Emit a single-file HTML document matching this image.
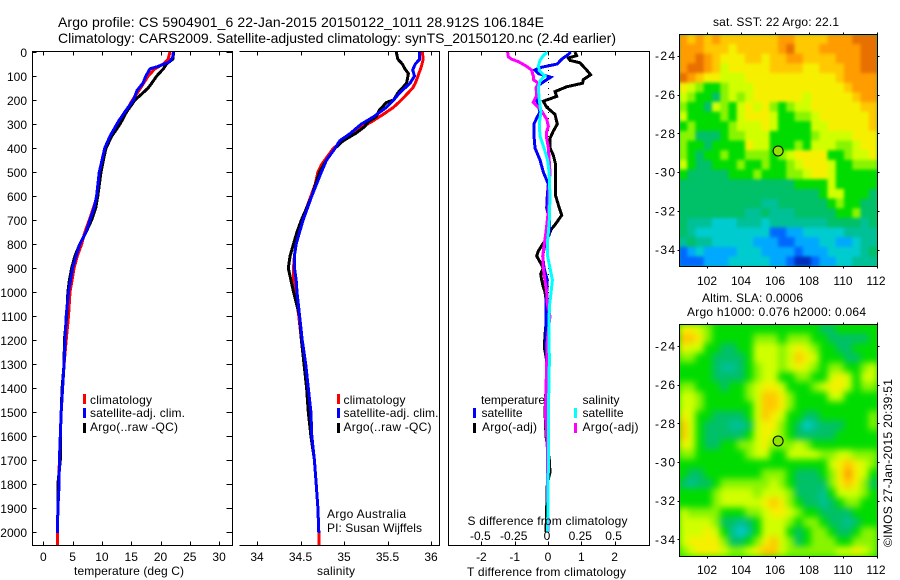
<!DOCTYPE html>
<html lang="en">
<head>
<meta charset="utf-8">
<title>Argo profile chart</title>
<style>
html,body{margin:0;padding:0;background:#fff;}
svg{display:block;}
text{font-family:"Liberation Sans",sans-serif;font-size:12px;fill:#000;}
</style>
</head>
<body>
<svg id="figure" xmlns="http://www.w3.org/2000/svg" width="900" height="580" viewBox="0 0 900 580">
  <defs>
    <clipPath id="sstClip"><rect x="680" y="34" width="197" height="232"/></clipPath>
    <clipPath id="slaClip"><rect x="680" y="324" width="197" height="232"/></clipPath>
    <filter id="soften" x="-5%" y="-5%" width="110%" height="110%" color-interpolation-filters="sRGB"><feGaussianBlur stdDeviation="3.5"/></filter>
    <filter id="softenLight" x="-5%" y="-5%" width="110%" height="110%" color-interpolation-filters="sRGB"><feGaussianBlur stdDeviation="1.5"/></filter>
  </defs>
  <text x="58" y="27" style="font-size:14px" textLength="486">Argo profile: CS 5904901_6 22-Jan-2015 20150122_1011 28.912S 106.184E</text>
  <text x="58" y="43" style="font-size:14px" textLength="558">Climatology: CARS2009. Satellite-adjusted climatology: synTS_20150120.nc (2.4d earlier)</text>
  <g id="panelTemp"></g>
  <g id="panelSal"></g>
  <g id="panelDiff"></g>
  <g id="mapSst"></g>
  <g id="mapSla"></g>
  <text x="327" y="518" textLength="79">Argo Australia</text>
  <text x="327" y="532" textLength="95">PI: Susan Wijffels</text>
  <text x="713" y="26" textLength="126">sat. SST: 22 Argo: 22.1</text>
  <text x="702" y="302" textLength="101">Altim. SLA: 0.0006</text>
  <text x="687" y="316" textLength="179">Argo h1000: 0.076 h2000: 0.064</text>
  <text transform="translate(892,547) rotate(-90)" x="0" y="0" textLength="168">©IMOS 27-Jan-2015 20:39:51</text>
</svg>
<script>
// ---------- chart data ----------
const depthTicks = [0,100,200,300,400,500,600,700,800,900,1000,1100,1200,1300,1400,1500,1600,1700,1800,1900,2000];
const tempTicks = [0,5,10,15,20,25,30];
const salTicks = [34,34.5,35,35.5,36];
const salTickLabels = ["34","34.5","35","35.5","36"];
const tDiffTicks = [-2,-1,0,1,2];
const sDiffTicks = [-0.5,-0.25,0,0.25,0.5];
const sDiffTickLabels = ["-0.5","-0.25","0","0.25","0.5"];
const lonTicks = [102,104,106,108,110,112];
const latTicks = [-24,-26,-28,-30,-32,-34];

const tempClimDepth = [0,30,50,70,100,150,200,250,300,350,400,500,600,650,700,750,800,850,900,1000,1100,1200,1300,1400,1500,1600,1700,1800,1900,2000,2055];
const tempClimValue = [21.6,21.3,20.5,19.05,17.9,16.6,15.2,14.1,12.8,11.5,10.7,9.7,9.2,8.55,7.85,7.1,6.55,5.8,5.25,4.55,4.3,3.9,3.55,3.25,3.05,2.9,2.75,2.65,2.5,2.4,2.4];
const tempArgoDepth = [0,30,50,70,100,130,150,175,200,250,300,350,400,450,500,600,650,700,750,800,850,900,950,1000,1100,1200,1300,1400,1500,1600,1700,1800,1900,2000];
const tempArgoValue = [22.25,22.1,21,20.5,19.35,18.5,17.9,16.8,15.65,14.2,13.1,11.7,10.7,10.25,9.85,9.3,8.95,8.25,7.3,6.25,5.4,4.85,4.45,4.2,4,3.6,3.55,3.2,3.05,2.9,2.9,2.5,2.5,2.4];
const tempSatDepth = [0,20,40,60,70,100,130,160,200,250,290,350,400,500,600,650,700,750,800,850,900,1000,1100,1200,1300,1400,1500,1600,1700,1800,1900,2005];
const tempSatValue = [22.2,22.1,21.6,19.6,18.2,17.5,17,16,15.4,13.9,12.8,11.4,10.5,9.55,9.1,8.65,7.95,7.3,6.25,5.6,5,4.3,3.9,3.7,3.55,3.3,3.05,2.9,2.75,2.7,2.5,2.4];

const salClimDepth = [0,30,60,100,130,150,200,230,260,290,310,350,400,470,500,550,600,700,750,800,850,900,950,1000,1100,1200,1300,1400,1500,1600,1700,1800,1900,2000,2055];
const salClimValue = [35.9,35.91,35.89,35.85,35.82,35.79,35.66,35.57,35.45,35.32,35.22,35.07,34.88,34.74,34.7,34.67,34.62,34.52,34.48,34.45,34.43,34.42,34.42,34.44,34.48,34.51,34.55,34.59,34.61,34.63,34.66,34.68,34.7,34.71,34.71];
const salArgoDepth = [0,30,50,70,90,110,130,170,200,210,240,270,290,310,340,370,400,450,500,600,650,700,750,800,850,900,950,1000,1100,1200,1300,1400,1500,1600,1700,1800,1900,2000];
const salArgoValue = [35.6,35.62,35.67,35.7,35.74,35.73,35.72,35.62,35.57,35.49,35.41,35.37,35.28,35.24,35.13,34.99,34.9,34.8,34.72,34.63,34.57,34.51,34.46,34.42,34.38,34.36,34.39,34.42,34.49,34.51,34.54,34.57,34.59,34.62,34.66,34.68,34.7,34.71];
const salSatDepth = [0,30,50,75,100,130,170,200,230,270,300,340,370,400,450,500,600,700,750,800,850,900,950,1000,1100,1200,1300,1400,1500,1600,1700,1800,1900,2005];
const salSatValue = [35.87,35.87,35.82,35.79,35.81,35.76,35.64,35.57,35.49,35.34,35.2,35.07,34.95,34.9,34.8,34.74,34.63,34.53,34.49,34.45,34.43,34.43,34.45,34.46,34.49,34.52,34.56,34.59,34.62,34.63,34.66,34.68,34.7,34.71];

const tDiffArgoDepth = [0,15,25,35,45,75,95,115,130,145,165,185,205,230,260,300,330,360,400,430,470,600,650,680,720,740,770,800,830,850,880,900,925,950,980,1000,1030,1050,1100,1180,1230,1300,1400,1500,1600,1700,1750,1800,1900,2000];
const tDiffArgoValue = [0.81,0.86,0.61,0.66,0.96,1.16,1.28,1.06,1.04,0.56,0.21,0.26,-0.14,-0.04,0.21,0.28,0.16,0.06,0.06,0.16,0.23,0.23,0.34,0.41,0.21,0.09,0.01,-0.16,-0.29,-0.34,-0.22,-0.14,-0.22,-0.19,-0.14,-0.09,-0.06,-0.04,-0.04,-0.09,-0.11,-0.02,-0.06,-0.09,-0.06,0.04,0.06,-0.02,-0.04,-0.06];
const tDiffSatDepth = [0,10,30,50,65,75,90,105,120,140,160,200,250,275,300,350,400,450,500,550,600,650,700,750,800,850,900,950,1000,1050,1100,1200,1300,1400,1500,1600,1700,2000];
const tDiffSatValue = [0.68,0.61,0.41,0.28,-0.24,-0.39,-0.29,0.08,-0.09,-0.29,-0.32,-0.34,-0.24,-0.34,-0.42,-0.42,-0.39,-0.24,-0.14,0.01,-0.02,-0.04,0.04,0.04,-0.09,-0.16,-0.12,-0.02,-0.04,-0.06,-0.06,-0.06,-0.04,-0.06,-0.04,-0.02,0,0];
const sDiffArgoDepth = [0,20,30,40,60,75,100,115,130,150,180,210,230,250,280,310,330,360,400,500,550,650,700,750,800,850,900,950,1000,1050,1100,1200,1300,1400,1500,1600,1650,2000];
const sDiffArgoValue = [-0.303,-0.298,-0.273,-0.223,-0.16,-0.123,-0.11,-0.11,-0.073,-0.09,-0.085,-0.11,-0.073,-0.043,-0.01,0.003,-0.01,-0.01,0.003,0.015,0.01,0.005,-0.005,-0.015,-0.028,-0.04,-0.035,-0.023,-0.01,-0.005,0.015,-0.005,-0.01,-0.015,-0.02,-0.01,-0.005,0];
const sDiffSatDepth = [0,15,35,60,80,100,120,150,200,250,300,350,400,450,500,600,700,750,800,850,900,950,1000,1050,1100,1300,1500,1700,2000];
const sDiffSatValue = [-0.005,-0.035,-0.06,-0.073,-0.06,-0.023,-0.06,-0.073,-0.065,-0.053,-0.065,-0.06,-0.03,-0.003,0.008,0.015,0.01,0.003,-0.005,-0.003,0.015,0.033,0.023,0.013,0.008,0.01,0.003,0.003,-0.003];

const floatLon = 106.184;
const floatLat = -28.912;

// SST map colour levels (rows north to south, columns west to east)
const sstLevels = [
[11,10,11,10,11,10,10,10,10,10,10,10,11,11,10,10,10,10,11,11,11,12,12,12],
[11,11,11,10,10,10,9,10,10,10,10,10,11,12,10,10,10,11,11,11,11,11,12,12],
[11,11,12,11,10,9,9,9,10,10,9,10,10,11,11,10,10,10,10,11,11,11,12,12],
[11,12,12,11,10,8,9,9,9,9,9,10,10,10,10,9,9,10,10,10,11,11,12,12],
[12,11,10,9,9,8,8,8,9,9,9,9,9,9,9,9,9,9,9,10,11,11,11,11],
[9,8,7,6,6,7,8,8,8,9,9,9,9,9,9,9,9,9,9,9,10,11,11,11],
[8,7,6,6,5,7,8,7,8,9,9,9,9,9,9,8,9,9,9,9,9,10,11,11],
[7,6,6,5,8,7,6,8,9,8,9,7,6,7,8,8,9,9,9,9,9,9,10,10],
[8,6,6,6,6,7,6,8,9,9,9,8,6,6,7,7,8,9,9,9,9,9,9,10],
[6,7,6,6,6,6,7,8,8,8,9,8,6,6,6,6,8,8,9,9,9,9,9,10],
[7,7,5,5,5,6,7,7,8,8,8,6,6,6,6,6,7,8,8,8,8,9,9,9],
[7,6,6,5,6,6,6,6,9,8,8,6,6,6,7,6,8,8,8,7,7,8,9,9],
[7,6,5,6,6,7,6,6,7,7,7,6,7,8,9,9,9,9,6,6,7,8,8,9],
[8,6,5,5,6,6,6,7,6,6,7,6,6,7,8,9,9,9,8,6,6,7,7,7],
[6,5,5,5,5,5,6,6,6,7,6,6,6,7,7,8,9,9,8,6,6,6,6,6],
[5,5,5,5,5,5,5,5,5,5,5,5,5,5,6,6,6,6,8,6,6,6,6,6],
[5,5,5,5,5,5,5,5,5,5,5,5,5,5,5,5,5,6,8,8,6,6,6,5],
[5,5,5,5,5,5,5,5,5,5,4,4,5,5,5,5,5,5,6,7,6,6,5,5],
[5,5,5,5,5,5,5,5,4,4,5,4,4,4,5,5,5,5,5,6,6,7,5,5],
[5,4,4,4,3,3,3,4,4,4,3,4,4,4,4,4,4,4,5,5,5,5,4,5],
[5,4,3,3,3,3,3,3,3,3,3,1,1,2,2,3,3,3,3,3,4,4,4,4],
[4,5,4,4,3,3,3,3,3,2,2,2,1,1,2,2,2,3,3,2,2,3,4,4],
[1,2,3,2,2,2,2,3,3,3,2,2,2,2,1,2,2,2,3,3,3,3,4,5],
[1,1,1,2,2,2,3,3,3,3,3,2,2,1,0,0,1,2,2,3,3,4,4,4]
];
// Altimetry SLA map colour levels (rows north to south, columns west to east)
const slaLevels = [
[9,9,8,7,6,6,6,6,6,6,6,6,6,6,6,6,6,5,5,6,6,6,6,6],
[10,10,9,7,6,6,6,6,6,7,7,7,6,7,7,7,6,6,5,5,5,5,5,6],
[9,8,8,6,6,5,5,6,6,8,8,8,7,8,9,8,7,6,6,5,5,6,6,6],
[7,7,6,6,5,5,5,5,6,8,8,8,7,8,10,9,8,6,6,6,5,5,6,6],
[6,6,6,6,5,4,4,5,6,7,8,8,7,8,9,8,7,6,7,7,6,6,7,8],
[6,6,6,6,5,5,5,5,6,7,8,8,6,6,7,7,6,6,8,9,8,6,8,8],
[7,7,6,6,6,5,6,6,7,8,9,9,8,6,6,6,7,8,9,9,8,6,7,7],
[8,8,7,6,6,6,6,6,7,8,10,10,9,7,6,6,6,6,8,8,6,6,6,6],
[8,8,7,6,6,6,6,6,6,8,10,10,9,7,6,6,6,6,6,6,6,6,6,6],
[9,8,6,6,5,5,5,5,6,8,10,9,8,6,6,5,5,6,6,6,6,6,6,7],
[10,8,6,5,5,5,4,4,5,8,9,9,7,6,5,3,4,5,5,5,6,6,6,7],
[10,8,6,5,5,5,5,5,6,8,9,8,7,6,5,5,5,5,5,6,6,6,6,6],
[9,8,6,5,5,6,6,7,7,8,9,7,7,7,8,7,6,6,6,6,6,6,6,6],
[7,7,6,6,6,6,6,6,7,8,8,6,6,8,8,8,8,7,7,8,8,7,7,7],
[6,6,6,6,6,6,6,6,6,6,6,6,6,6,6,6,6,6,8,9,10,9,8,7],
[6,5,5,6,6,6,6,6,6,6,7,7,7,6,5,5,5,6,7,9,11,9,8,6],
[5,4,5,5,6,7,7,7,7,7,7,8,7,6,5,5,5,5,7,9,10,9,7,5],
[6,6,6,6,7,8,8,8,8,7,8,8,8,7,5,5,5,4,6,8,8,8,7,6],
[6,6,6,6,7,8,8,8,8,8,9,10,9,7,6,5,5,4,5,6,7,7,6,6],
[8,7,7,7,7,6,6,6,7,7,8,9,9,8,7,6,6,5,5,5,5,6,6,6],
[8,8,8,8,7,5,5,4,5,6,8,8,8,7,6,7,7,6,5,5,4,5,6,6],
[8,8,8,9,8,6,4,3,4,6,8,8,8,6,5,6,7,7,6,5,5,6,7,7],
[8,9,9,9,9,7,5,5,6,7,9,10,8,7,5,6,7,7,7,6,6,7,7,7],
[7,8,9,9,9,8,7,7,8,9,10,10,8,7,7,7,7,7,7,8,8,9,8,7]
];

// ---------- axis functions ----------
const yDepth = d => 52 + 0.24 * d;
const xTemp = t => 43.3 + 5.86 * t;
const xSal = s => 257 + 87 * (s - 34);
const xTDiff = t => 548 + 33.3 * t;
const xSDiff = s => 548 + 133.2 * s;
const xLon = lon => 877 + 17 * (lon - 112);
const ySst = lat => 55.7 - 19.4 * (lat + 24);
const ySla = lat => 346 - 19.33 * (lat + 24);
const levelColors = ["#0030c0","#0068ff","#00a8ff","#00ccd0","#00c098","#00c068","#00dc00","#88f400","#d0ff00","#f6f000","#ffc800","#ff9c00","#e87000"];
const SVGNS = "http://www.w3.org/2000/svg";

function mk(tag, attrs, parent) {
  const node = document.createElementNS(SVGNS, tag);
  for (const k in attrs) node.setAttribute(k, attrs[k]);
  parent.appendChild(node);
  return node;
}
function rule(parent, x1, y1, x2, y2) {
  return mk("line", {x1:x1, y1:y1, x2:x2, y2:y2, stroke:"#000", "stroke-width":1, "shape-rendering":"crispEdges"}, parent);
}
function label(parent, x, y, str, anchor, width) {
  const node = mk("text", {x:x, y:y, "text-anchor":anchor || "start"}, parent);
  if (width) node.setAttribute("textLength", width);
  node.textContent = str;
  return node;
}
function profile(parent, depths, values, xfn, color) {
  const pts = values.map((v, i) => xfn(v).toFixed(1) + "," + yDepth(depths[i]).toFixed(1)).join(" ");
  return mk("polyline", {points:pts, fill:"none", stroke:color, "stroke-width":3, "stroke-linejoin":"miter", "shape-rendering":"crispEdges"}, parent);
}
function swatch(parent, x, y, color) {
  return mk("rect", {x:x, y:y, width:3, height:10, fill:color, "shape-rendering":"crispEdges"}, parent);
}

// ---------- temperature panel ----------
const gT = document.getElementById("panelTemp");
const tFrame = mk("path", {d:"M32.5 51.5H232.5V545.5H32.5Z", fill:"none", stroke:"#000", "shape-rendering":"crispEdges"}, gT);


depthTicks.forEach(d => {
  const y = Math.round(yDepth(d)) + 0.5;
  const tl = rule(gT, 32.5, y, 36.5, y);
  
  
  const tr = rule(gT, 226.5, y, 232.5, y);
  
  
  const lb = label(gT, 27, yDepth(d) + 5, String(d), "end");
  
  
});
tempTicks.forEach(t => {
  const x = Math.round(xTemp(t)) + 0.5;
  const a = rule(gT, x, 51.5, x, 55.5);
  
  
  const b = rule(gT, x, 541.5, x, 545.5);
  
  
  const lb = label(gT, xTemp(t), 561, String(t), "middle");
  
  
});
const tTitle = label(gT, 74, 575, "temperature (deg C)", "start", 110);


const tRed = profile(gT, tempClimDepth, tempClimValue, xTemp, "#ff0000");


const tBlack = profile(gT, tempArgoDepth, tempArgoValue, xTemp, "#000000");


const tBlue = profile(gT, tempSatDepth, tempSatValue, xTemp, "#0000ff");


const lt1s = swatch(gT, 83, 394, "#ff0000");


const lt2s = swatch(gT, 83, 408, "#0000ff");


const lt3s = swatch(gT, 83, 423, "#000000");


const lt1 = label(gT, 90, 404, "climatology", "start", 62);


const lt2 = label(gT, 90, 417, "satellite-adj. clim.", "start", 95);


const lt3 = label(gT, 90, 431, "Argo(..raw -QC)", "start", 88);



// ---------- salinity panel ----------
const gS = document.getElementById("panelSal");
const sFrame = mk("path", {d:"M239.5 51.5H439.5V545.5H239.5", fill:"none", stroke:"#000", "shape-rendering":"crispEdges"}, gS);


salTicks.forEach((s, i) => {
  const x = Math.round(xSal(s)) + 0.5;
  const a = rule(gS, x, 51.5, x, 55.5);
  
  
  const b = rule(gS, x, 541.5, x, 545.5);
  
  
  const lb = label(gS, xSal(s), 561, salTickLabels[i], "middle");
  
  
});
const sTitle = label(gS, 317, 575, "salinity", "start", 38);


const sRed = profile(gS, salClimDepth, salClimValue, xSal, "#ff0000");


const sBlack = profile(gS, salArgoDepth, salArgoValue, xSal, "#000000");


const sBlue = profile(gS, salSatDepth, salSatValue, xSal, "#0000ff");


const ls1s = swatch(gS, 337, 394, "#ff0000");


const ls2s = swatch(gS, 337, 408, "#0000ff");


const ls3s = swatch(gS, 337, 423, "#000000");


const ls1 = label(gS, 343.5, 404, "climatology", "start", 62);


const ls2 = label(gS, 343.5, 417, "satellite-adj. clim.", "start", 95);


const ls3 = label(gS, 343.5, 431, "Argo(..raw -QC)", "start", 88);



// ---------- difference panel ----------
const gD = document.getElementById("panelDiff");
const dFrame = mk("path", {d:"M448.5 51.5H649.5V545.5H448.5Z", fill:"none", stroke:"#000", "shape-rendering":"crispEdges"}, gD);


const zeroLine = mk("line", {x1:548.5, y1:52, x2:548.5, y2:545, stroke:"#000", "stroke-width":1, "stroke-dasharray":"1 5", "shape-rendering":"crispEdges"}, gD);


tDiffTicks.forEach(t => {
  const x = Math.round(xTDiff(t)) + 0.5;
  const a = rule(gD, x, 51.5, x, 55.5);
  
  
  const b = rule(gD, x, 541.5, x, 545.5);
  
  
  const lb = label(gD, xTDiff(t), 561, String(t), "middle");
  
  
});
const dBlack = profile(gD, tDiffArgoDepth, tDiffArgoValue, xTDiff, "#000000");


const dBlue = profile(gD, tDiffSatDepth, tDiffSatValue, xTDiff, "#0000ff");


const dMag = profile(gD, sDiffArgoDepth, sDiffArgoValue, xSDiff, "#ff00ff");


const dCyan = profile(gD, sDiffSatDepth, sDiffSatValue, xSDiff, "#00ffff");


sDiffTicks.forEach((s, i) => {
  const lb = label(gD, xSDiff(s) - 1, 540, sDiffTickLabels[i], "middle");
  
  
});
const dSTitle = label(gD, 467.5, 525, "S difference from climatology", "start", 160);


const dTTitle = label(gD, 467, 576, "T difference from climatology", "start", 159);


const ld0 = label(gD, 481, 404, "temperature", "start", 64);


const ld1s = swatch(gD, 473, 408, "#0000ff");


const ld2s = swatch(gD, 473, 423, "#000000");


const ld1 = label(gD, 481.5, 417, "satellite", "start", 41);


const ld2 = label(gD, 482, 431, "Argo(-adj)", "start", 55);


const ld3 = label(gD, 582.5, 404, "salinity", "start", 37);


const ld4s = swatch(gD, 574, 408, "#00ffff");


const ld5s = swatch(gD, 574, 423, "#ff00ff");


const ld4 = label(gD, 582.5, 417, "satellite", "start", 41);


const ld5 = label(gD, 582.5, 431, "Argo(-adj)", "start", 56);



// ---------- maps ----------
function drawCells(parent, grid, latTop, latBottom, yfn) {
  const lonLeft = 100.35, lonRight = 112;
  const dLon = (lonRight - lonLeft) / grid[0].length;
  const dLat = (latTop - latBottom) / grid.length;
  grid.forEach((row, r) => {
    row.forEach((lev, c) => {
      const x0 = xLon(lonLeft + c * dLon), x1 = xLon(lonLeft + (c + 1) * dLon);
      const y0 = yfn(latTop - r * dLat), y1 = yfn(latTop - (r + 1) * dLat);
      const lv = Math.max(0, Math.min(levelColors.length - 1, Math.round(lev)));
      const cell = mk("rect", {x:x0.toFixed(2), y:y0.toFixed(2), width:(x1 - x0 + 0.6).toFixed(2), height:(y1 - y0 + 0.6).toFixed(2), fill:levelColors[lv]}, parent);
      
      
    });
  });
}
function mapAxes(parent, yfn, top, bottom, labelY) {
  const frame = mk("rect", {x:679.5, y:top + 0.5, width:198, height:bottom - top, fill:"none", stroke:"#000", "shape-rendering":"crispEdges"}, parent);
  
  
  lonTicks.forEach(lon => {
    const x = Math.round(xLon(lon)) + 0.5;
    const a = rule(parent, x, top - 1.5, x, top + 0.5);
    
    
    const b = rule(parent, x, bottom + 0.5, x, bottom + 2.5);
    
    
    const lb = label(parent, xLon(lon) - (lon === 112 ? 1 : 0), labelY, String(lon), "middle");
    
    
  });
  latTicks.forEach(lat => {
    const y = Math.round(yfn(lat)) + 0.5;
    const a = rule(parent, 677.5, y, 679.5, y);
    
    
    const b = rule(parent, 877.5, y, 879.5, y);
    
    
    const lb = label(parent, 655, yfn(lat) + 4.5, String(lat), "start", 20);
    
    
  });
}
function floatMarker(parent, yfn) {
  const m = mk("circle", {cx:xLon(floatLon), cy:yfn(floatLat), r:5, fill:"#90e400", stroke:"#000", "stroke-width":1}, parent);
  return m;
}

const gM1 = document.getElementById("mapSst");
const m1Clip = mk("g", {"clip-path":"url(#sstClip)"}, gM1);


const m1Cells = mk("g", {filter:"url(#softenLight)"}, m1Clip);


const m1Bg = mk("rect", {x:670, y:24, width:217, height:252, fill:"#00c068"}, m1Cells);


drawCells(m1Cells, sstLevels, -22.9, -34.85, ySst);
mapAxes(gM1, ySst, 34, 266, 285);
const m1Dot = floatMarker(gM1, ySst);



const gM2 = document.getElementById("mapSla");
const m2Clip = mk("g", {"clip-path":"url(#slaClip)"}, gM2);


const m2Cells = mk("g", {filter:"url(#soften)"}, m2Clip);


const m2Bg = mk("rect", {x:670, y:314, width:217, height:252, fill:"#00dc00"}, m2Cells);


drawCells(m2Cells, slaLevels, -22.86, -34.86, ySla);
mapAxes(gM2, ySla, 324, 556, 574);
const m2Dot = floatMarker(gM2, ySla);


</script>
</body>
</html>
